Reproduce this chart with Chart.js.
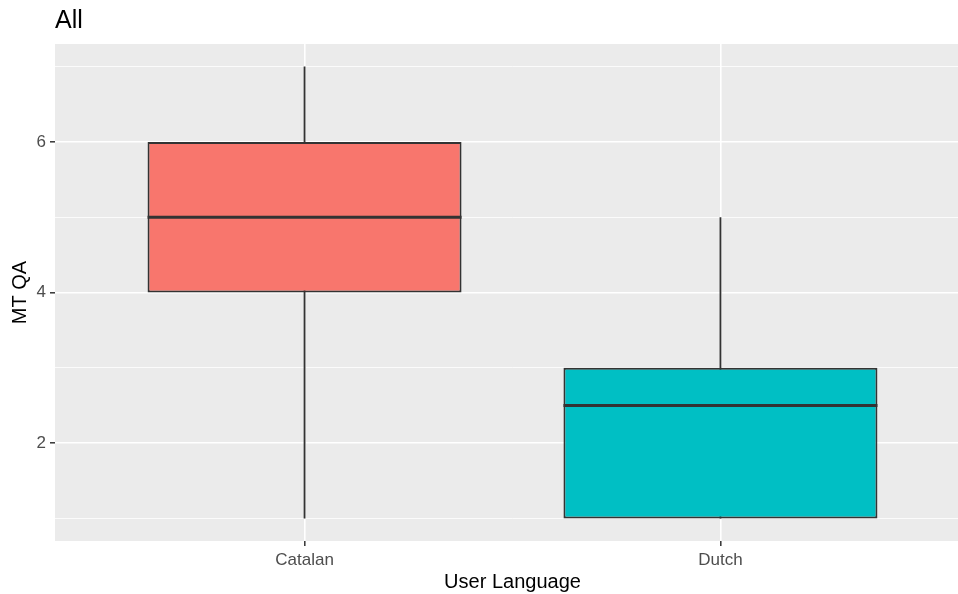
<!DOCTYPE html>
<html>
<head>
<meta charset="utf-8">
<script src="https://cdn.jsdelivr.net/npm/chart.js@4/dist/chart.umd.min.js"></script>
<style>
  html, body { margin: 0; padding: 0; overflow: hidden; background: #fff; }
</style>
</head>
<body>
<canvas id="boxChart" width="970" height="594"></canvas>
<script>
// box statistics per language
const categories = ['Catalan', 'Dutch'];
const mins = [1, 1];
const q1s = [4, 1];
const medians = [5, 2.5];
const q3s = [6, 3];
const maxs = [7, 5];
const boxColors = ['#F8766D', '#00BFC4'];
const yTicks = [1, 2, 3, 4, 5, 6, 7];
const yLabelTicks = [2, 4, 6];

const BOX_WIDTH = 0.755;
const INK = '#333333';
const FONT = '"Liberation Sans", Arial, sans-serif';

// grey panel behind the grid
const panelBg = {
  id: 'panelBg',
  beforeDraw(chart) {
    const { ctx, chartArea: a } = chart;
    ctx.save();
    ctx.fillStyle = '#EBEBEB';
    ctx.fillRect(a.left, a.top, a.right - a.left, a.bottom - a.top);
    ctx.restore();
  }
};

const positions = categories.map((c, i) => i + 1);

const whiskers = positions.map((x, i) => ({
  type: 'line',
  data: [{ x, y: mins[i] }, { x, y: maxs[i] }],
  borderColor: INK,
  borderWidth: 1.8,
  pointRadius: 0,
  order: 3
}));

const medianLines = positions.map((x, i) => ({
  type: 'line',
  data: [{ x: x - BOX_WIDTH / 2, y: medians[i] }, { x: x + BOX_WIDTH / 2, y: medians[i] }],
  borderColor: INK,
  borderWidth: 3,
  pointRadius: 0,
  order: 1
}));

const boxes = {
  type: 'bar',
  data: positions.map((x, i) => ({ x, y: [q1s[i], q3s[i]] })),
  backgroundColor: boxColors,
  borderColor: INK,
  borderWidth: 2,
  borderSkipped: false,
  categoryPercentage: 1,
  barPercentage: BOX_WIDTH,
  order: 2
};

new Chart(document.getElementById('boxChart').getContext('2d'), {
  type: 'bar',
  data: { datasets: [...whiskers, boxes, ...medianLines] },
  options: {
    responsive: false,
    animation: false,
    layout: { padding: 0 },
    plugins: {
      legend: { display: false },
      tooltip: { enabled: false },
      title: {
        display: true,
        text: 'All',
        align: 'start',
        fullSize: false,
        color: '#000',
        font: { family: FONT, size: 25, weight: 'normal' },
        padding: { top: 6, bottom: 8 }
      }
    },
    scales: {
      x: {
        type: 'linear',
        min: 0.4,
        max: 2.6,
        offset: false,
        afterBuildTicks: s => { s.ticks = positions.map(v => ({ value: v })); },
        afterFit: s => { s.height = 53; },
        border: { display: false },
        grid: {
          offset: false,
          color: '#FFFFFF',
          lineWidth: 1.6,
          tickColor: INK,
          tickLength: 5,
          tickWidth: 1.5
        },
        ticks: {
          padding: 4,
          color: '#4D4D4D',
          font: { family: FONT, size: 17 },
          maxRotation: 0,
          callback: v => categories[Math.round(v) - 1]
        },
        title: {
          display: true,
          text: 'User Language',
          color: '#000',
          font: { family: FONT, size: 20 },
          padding: { top: 0, bottom: 0 }
        }
      },
      y: {
        type: 'linear',
        min: 0.7,
        max: 7.3,
        afterBuildTicks: s => { s.ticks = yTicks.map(v => ({ value: v })); },
        afterFit: s => { s.width = 55; },
        border: { display: false },
        grid: {
          color: '#FFFFFF',
          lineWidth: c => (yLabelTicks.includes(c.tick.value) ? 1.6 : 0.8),
          tickColor: c => (yLabelTicks.includes(c.tick.value) ? INK : 'rgba(0,0,0,0)'),
          tickWidth: 1.5,
          tickLength: 5
        },
        ticks: {
          padding: 4,
          color: '#4D4D4D',
          font: { family: FONT, size: 17 },
          callback: v => (yLabelTicks.includes(v) ? String(v) : '')
        },
        title: {
          display: true,
          text: 'MT QA',
          color: '#000',
          font: { family: FONT, size: 20 },
          padding: { top: 8, bottom: 0 }
        }
      }
    }
  },
  plugins: [panelBg]
});
</script>
</body>
</html>
